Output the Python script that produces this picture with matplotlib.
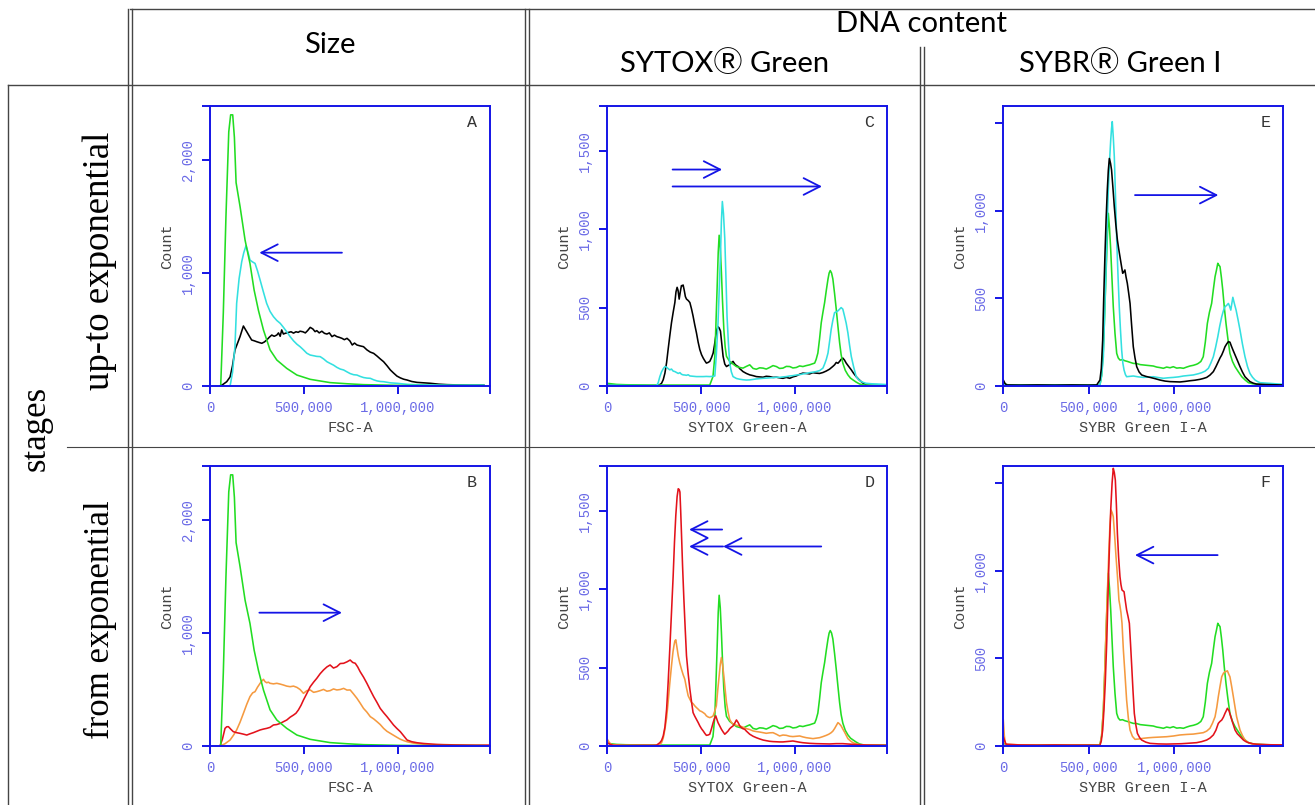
import numpy as np
import matplotlib.pyplot as plt
from matplotlib.lines import Line2D

# ---------------- data (x in thousands of channel units, y = cell count) ----------------
# FSC-A, green reference population (same curve in panels A and B)
fsc_green_x = [57, 71, 85, 100, 110, 121, 130, 139, 160, 187, 213, 235, 258, 285, 320, 356, 409, 463,
               534, 640, 729, 818, 996, 1174, 1459]
fsc_green_y = [0, 650, 1500, 2250, 2400, 2400, 2200, 1800, 1590, 1290, 1085, 850, 670, 495, 320, 230,
               156, 97, 59, 30, 20, 12, 6, 3, 3]

fsc_black_x = [53, 70, 89, 107, 120, 133, 147, 160, 170, 178, 187, 196, 210, 222, 236, 249, 262, 276,
               290, 302, 315, 329, 342, 356, 365, 374, 382, 391, 400, 409, 420, 432, 445, 458, 470,
               480, 495, 508, 520, 534, 548, 560, 569, 582, 596, 610, 623, 636, 650, 663, 676, 690,
               703, 716, 730, 745, 758, 770, 783, 800, 818, 836, 854, 872, 890, 907, 925, 943, 961,
               978, 996, 1014, 1032, 1050, 1075, 1103, 1140, 1174, 1220, 1263, 1310, 1352, 1400, 1459]
fsc_black_y = [0, 15, 38, 80, 180, 319, 380, 437, 490, 531, 505, 480, 440, 407, 400, 392, 385, 378,
               390, 407, 430, 451, 440, 451, 470, 440, 496, 460, 466, 470, 475, 480, 468, 480, 475,
               485, 480, 470, 490, 519, 505, 481, 490, 470, 485, 466, 460, 470, 437, 450, 437, 430,
               422, 410, 422, 400, 363, 380, 363, 355, 348, 320, 300, 289, 265, 240, 215, 180, 142,
               115, 88, 72, 60, 53, 40, 32, 28, 24, 16, 12, 10, 9, 8, 8]

fsc_cyan_x = [107, 120, 133, 142, 155, 169, 180, 192, 203, 213, 225, 240, 253, 267, 285, 302, 320,
              338, 356, 374, 391, 409, 427, 445, 463, 480, 498, 516, 534, 552, 569, 587, 605, 623,
              640, 658, 676, 694, 712, 730, 747, 765, 783, 800, 818, 836, 854, 872, 890, 907, 925,
              943, 961, 978, 996, 1050, 1085, 1174, 1263, 1352, 1459]
fsc_cyan_y = [0, 120, 350, 731, 950, 1100, 1180, 1242, 1180, 1115, 1100, 1085, 1020, 938, 830, 731,
              660, 614, 580, 555, 520, 480, 437, 400, 370, 348, 320, 290, 274, 268, 262, 260, 240,
              215, 200, 185, 165, 150, 142, 125, 110, 100, 97, 85, 75, 70, 68, 55, 45, 40, 38, 33,
              28, 26, 24, 15, 12, 9, 8, 8, 8]

fsc_orange_x = [53, 80, 107, 125, 142, 160, 178, 196, 213, 227, 240, 253, 267, 276, 285, 293, 302,
                311, 320, 338, 356, 374, 391, 409, 427, 445, 463, 480, 498, 516, 534, 552, 569, 587,
                605, 623, 640, 658, 676, 694, 712, 730, 747, 765, 783, 800, 818, 836, 854, 872, 890,
                907, 925, 943, 961, 978, 996, 1014, 1032, 1050, 1085, 1121, 1165, 1210, 1300, 1400,
                1490]
fsc_orange_y = [0, 20, 53, 95, 142, 210, 289, 370, 437, 470, 481, 520, 555, 575, 590, 570, 560, 565,
                555, 550, 555, 548, 540, 530, 525, 530, 519, 500, 466, 490, 496, 475, 481, 490, 501,
                485, 490, 505, 496, 500, 510, 495, 496, 460, 422, 380, 333, 300, 260, 240, 215, 190,
                156, 130, 112, 95, 77, 60, 48, 38, 25, 18, 12, 9, 5, 3, 3]

fsc_red_x = [53, 66, 80, 89, 98, 110, 124, 142, 160, 178, 196, 213, 231, 249, 267, 285, 302, 320,
             338, 356, 374, 391, 409, 427, 445, 458, 471, 485, 498, 516, 534, 552, 569, 587, 605,
             623, 640, 658, 676, 694, 712, 730, 747, 760, 774, 787, 800, 818, 836, 854, 872, 890,
             907, 925, 943, 961, 978, 996, 1014, 1032, 1050, 1075, 1103, 1140, 1174, 1210, 1245,
             1300, 1352, 1420, 1490]
fsc_red_y = [0, 60, 156, 170, 171, 150, 127, 118, 112, 105, 97, 108, 118, 130, 142, 150, 156, 165,
             186, 190, 200, 215, 230, 255, 274, 290, 319, 360, 407, 465, 525, 565, 599, 640, 673,
             700, 717, 690, 702, 730, 732, 745, 761, 740, 732, 700, 658, 610, 555, 495, 437, 385,
             333, 295, 260, 222, 186, 155, 127, 90, 53, 38, 29, 22, 18, 14, 12, 10, 9, 8, 8]

# SYTOX Green-A
sytox_green_x = [0, 50, 100, 209, 400, 546, 563, 573, 579, 585, 591, 596, 602, 608, 614, 621, 628,
                 635, 652, 670, 688, 706, 723, 741, 759, 777, 794, 812, 830, 847, 865, 883, 901, 918,
                 936, 954, 972, 989, 1007, 1025, 1042, 1060, 1078, 1095, 1105, 1113, 1122, 1131,
                 1140, 1149, 1158, 1167, 1176, 1182, 1188, 1195, 1202, 1211, 1220, 1229, 1238, 1246,
                 1255, 1268, 1282, 1296, 1309, 1326, 1344, 1362, 1380, 1420, 1490]
sytox_green_y = [17, 10, 8, 6, 6, 6, 60, 189, 400, 618, 850, 961, 880, 725, 540, 361, 250, 189, 157,
                 140, 124, 118, 114, 125, 135, 112, 107, 116, 114, 108, 118, 130, 124, 112, 114,
                 125, 124, 115, 118, 128, 124, 130, 135, 142, 146, 170, 210, 300, 403, 470, 532,
                 610, 682, 720, 736, 720, 682, 590, 489, 380, 275, 200, 146, 100, 71, 50, 39, 25,
                 13, 8, 6, 6, 6]

sytox_black_x = [0, 100, 200, 271, 289, 298, 307, 316, 324, 333, 342, 351, 360, 366, 372, 377, 383,
                 389, 395, 400, 404, 410, 416, 422, 431, 440, 449, 457, 466, 475, 484, 493, 502, 511,
                 520, 528, 537, 546, 555, 564, 571, 578, 584, 590, 596, 603, 610, 617, 626, 635, 643,
                 652, 661, 670, 679, 688, 697, 706, 714, 723, 741, 759, 777, 794, 812, 830, 847, 865,
                 883, 901, 918, 936, 954, 972, 989, 1007, 1025, 1042, 1060, 1078, 1095, 1113, 1131,
                 1149, 1166, 1184, 1202, 1211, 1220, 1229, 1238, 1246, 1255, 1264, 1273, 1286, 1300,
                 1313, 1326, 1340, 1353, 1366, 1380, 1420, 1490]
sytox_black_y = [5, 3, 3, 2, 17, 40, 82, 150, 232, 320, 403, 470, 532, 600, 629, 610, 554, 600, 640,
                 640, 644, 610, 570, 554, 545, 532, 490, 446, 390, 339, 280, 232, 200, 178, 160, 146,
                 150, 157, 180, 210, 260, 318, 360, 378, 370, 350, 270, 189, 140, 124, 130, 135,
                 148, 157, 140, 130, 124, 110, 102, 92, 80, 71, 66, 60, 58, 56, 62, 60, 55, 56, 52,
                 49, 55, 49, 58, 64, 75, 82, 80, 77, 85, 82, 80, 86, 95, 107, 125, 135, 150, 145,
                 157, 170, 178, 165, 146, 125, 103, 80, 60, 42, 28, 15, 6, 2, 0]

sytox_cyan_x = [0, 100, 262, 271, 280, 289, 298, 307, 316, 325, 333, 342, 351, 360, 369, 378, 387,
                395, 404, 413, 422, 431, 440, 457, 475, 493, 511, 528, 546, 564, 573, 581, 590, 596,
                603, 608, 613, 619, 626, 632, 638, 645, 652, 661, 670, 688, 706, 723, 741, 759, 777,
                794, 812, 830, 847, 865, 883, 901, 918, 936, 954, 972, 989, 1007, 1025, 1042, 1060,
                1078, 1095, 1113, 1131, 1149, 1158, 1167, 1176, 1184, 1193, 1202, 1211, 1220, 1229,
                1238, 1246, 1255, 1264, 1273, 1282, 1291, 1300, 1313, 1326, 1340, 1353, 1366, 1380,
                1410, 1433, 1490]
sytox_cyan_y = [5, 3, 2, 20, 60, 90, 110, 124, 120, 110, 103, 108, 95, 92, 86, 80, 85, 75, 71, 70,
                68, 72, 64, 62, 60, 60, 60, 61, 60, 62, 64, 200, 403, 600, 833, 1050, 1176, 1100,
                940, 700, 446, 280, 146, 90, 60, 48, 43, 40, 38, 39, 42, 45, 47, 49, 50, 52, 53, 56,
                55, 58, 60, 64, 66, 70, 72, 77, 80, 85, 88, 92, 98, 114, 140, 170, 210, 280, 361,
                420, 468, 472, 479, 490, 500, 490, 446, 400, 339, 260, 189, 120, 60, 40, 28, 22, 17,
                14, 13, 9]

sytox_red_x = [0, 16, 32, 100, 200, 245, 262, 280, 289, 298, 307, 316, 324, 333, 342, 351, 358, 365,
               372, 378, 383, 387, 391, 395, 401, 408, 415, 422, 431, 440, 449, 457, 466, 475, 484,
               493, 502, 511, 520, 528, 537, 546, 555, 564, 571, 578, 584, 590, 599, 608, 617, 626,
               635, 644, 652, 661, 670, 679, 688, 697, 706, 714, 723, 732, 741, 750, 759, 777, 794,
               812, 830, 847, 865, 883, 901, 918, 936, 954, 972, 989, 1007, 1025, 1042, 1060, 1078,
               1113, 1149, 1184, 1220, 1255, 1290, 1326, 1380, 1440, 1490]
sytox_red_y = [21, 10, 4, 3, 4, 4, 5, 21, 35, 64, 120, 234, 400, 618, 850, 1086, 1300, 1470, 1590,
               1640, 1635, 1619, 1500, 1363, 1150, 937, 750, 575, 460, 362, 280, 213, 190, 170, 150,
               128, 110, 96, 80, 68, 70, 75, 110, 149, 175, 192, 170, 149, 128, 107, 90, 75, 85, 96,
               110, 120, 128, 145, 166, 150, 128, 118, 110, 107, 95, 85, 75, 62, 53, 45, 38, 34, 30,
               28, 27, 26, 26, 28, 30, 32, 28, 24, 21, 19, 17, 15, 14, 13, 15, 15, 12, 9, 6, 5, 4]

sytox_orange_x = [0, 12, 23, 80, 150, 262, 280, 289, 298, 307, 316, 324, 333, 342, 350, 355, 360,
                  365, 371, 378, 386, 395, 404, 413, 422, 431, 440, 449, 457, 466, 475, 484, 493,
                  502, 511, 520, 528, 537, 546, 555, 564, 572, 581, 588, 596, 602, 608, 614, 621,
                  628, 635, 643, 652, 661, 670, 679, 688, 697, 706, 723, 741, 759, 777, 794, 812,
                  830, 847, 865, 883, 901, 918, 936, 954, 972, 989, 1007, 1025, 1042, 1060, 1078,
                  1096, 1113, 1131, 1149, 1167, 1180, 1193, 1202, 1211, 1220, 1229, 1238, 1246,
                  1255, 1264, 1273, 1282, 1296, 1309, 1326, 1344, 1380, 1440, 1490]
sytox_orange_y = [43, 20, 9, 5, 5, 4, 10, 21, 50, 107, 180, 277, 400, 511, 600, 639, 670, 677, 630,
                  575, 530, 490, 455, 426, 370, 320, 298, 277, 270, 256, 245, 235, 224, 220, 213,
                  205, 192, 185, 181, 185, 192, 220, 256, 350, 447, 520, 564, 520, 447, 360, 277,
                  220, 170, 150, 140, 138, 132, 130, 128, 120, 111, 105, 96, 92, 89, 85, 81, 84, 85,
                  75, 64, 70, 68, 62, 60, 62, 64, 58, 53, 50, 47, 50, 53, 60, 68, 75, 85, 95, 111,
                  130, 149, 140, 128, 108, 89, 68, 47, 32, 21, 14, 9, 6, 5, 4]

# SYBR Green I-A
sybr_green_x = [0, 15, 29, 100, 300, 500, 565, 575, 585, 593, 600, 607, 614, 621, 628, 636, 643,
                653, 663, 672, 682, 697, 711, 726, 741, 760, 780, 800, 819, 838, 858, 877, 897, 916,
                936, 955, 975, 994, 1014, 1033, 1053, 1072, 1091, 1111, 1130, 1140, 1155, 1169, 1181,
                1193, 1205, 1218, 1228, 1238, 1246, 1254, 1260, 1267, 1275, 1283, 1292, 1302, 1313,
                1325, 1340, 1355, 1375, 1394, 1413, 1433, 1457, 1481, 1540, 1630]
sybr_green_y = [15, 10, 6, 6, 6, 6, 6, 60, 205, 420, 624, 820, 985, 900, 776, 600, 452, 300, 186,
                160, 148, 150, 144, 140, 135, 129, 128, 122, 120, 118, 116, 114, 108, 105, 101, 108,
                104, 110, 102, 104, 101, 108, 114, 118, 124, 129, 140, 167, 250, 357, 420, 471, 550,
                624, 660, 700, 690, 681, 620, 548, 450, 357, 270, 186, 140, 110, 80, 53, 35, 19, 13,
                10, 7, 6]

sybr_black_x = [0, 10, 19, 100, 200, 300, 400, 500, 546, 565, 573, 581, 587, 594, 601, 608, 614,
                620, 627, 633, 641, 649, 658, 667, 675, 682, 690, 698, 704, 711, 718, 725, 733, 741,
                750, 760, 770, 780, 794, 809, 833, 858, 887, 916, 946, 975, 1004, 1033, 1062, 1091,
                1120, 1150, 1170, 1189, 1208, 1228, 1243, 1257, 1267, 1277, 1287, 1296, 1306, 1316,
                1325, 1335, 1345, 1355, 1369, 1384, 1398, 1413, 1428, 1442, 1462, 1481, 1540, 1630]
sybr_black_y = [34, 15, 6, 5, 6, 5, 6, 5, 6, 34, 100, 262, 500, 738, 950, 1118, 1230, 1298, 1270,
                1232, 1130, 1023, 920, 833, 780, 738, 690, 643, 650, 662, 620, 586, 530, 471, 350,
                224, 160, 110, 80, 63, 55, 49, 42, 34, 28, 25, 24, 23, 26, 30, 33, 38, 43, 49, 62,
                82, 110, 139, 160, 177, 200, 224, 240, 253, 250, 224, 200, 177, 145, 110, 80, 53, 38,
                25, 16, 11, 8, 6]

sybr_cyan_x = [0, 100, 300, 500, 565, 575, 585, 592, 600, 607, 614, 621, 628, 633, 637, 643, 649,
               656, 663, 671, 678, 685, 692, 699, 706, 714, 721, 740, 760, 790, 819, 848, 877, 907,
               936, 965, 994, 1024, 1053, 1082, 1111, 1140, 1160, 1180, 1199, 1213, 1228, 1241, 1254,
               1265, 1277, 1287, 1296, 1306, 1316, 1323, 1330, 1336, 1342, 1351, 1361, 1372, 1384,
               1398, 1413, 1428, 1442, 1457, 1472, 1487, 1501, 1530, 1559, 1600, 1630]
sybr_cyan_y = [6, 5, 6, 5, 6, 60, 167, 400, 643, 900, 1118, 1280, 1403, 1470, 1508, 1420, 1308,
               1080, 833, 620, 452, 320, 205, 130, 91, 65, 53, 55, 57, 52, 49, 51, 53, 48, 44, 47,
               49, 52, 57, 60, 63, 70, 76, 85, 101, 130, 167, 220, 281, 340, 395, 430, 452, 460,
               471, 455, 433, 470, 506, 470, 433, 380, 319, 240, 167, 110, 72, 50, 34, 25, 19, 17,
               15, 12, 10]

sybr_red_x = [0, 8, 16, 100, 200, 300, 400, 500, 565, 573, 581, 588, 596, 605, 614, 621, 628, 636,
              643, 649, 655, 661, 667, 674, 682, 688, 694, 700, 706, 713, 721, 729, 737, 744, 751,
              758, 766, 775, 784, 797, 809, 833, 858, 906, 955, 1000, 1040, 1072, 1101, 1130, 1160,
              1189, 1208, 1228, 1243, 1257, 1267, 1277, 1287, 1296, 1303, 1310, 1320, 1330, 1342,
              1355, 1368, 1381, 1393, 1404, 1418, 1433, 1457, 1481, 1560, 1630]
sybr_red_y = [53, 30, 10, 6, 5, 6, 5, 5, 4, 30, 91, 200, 357, 600, 928, 1150, 1346, 1500, 1584,
              1560, 1517, 1380, 1213, 1080, 966, 920, 890, 885, 880, 830, 776, 740, 700, 580, 452,
              320, 186, 120, 72, 48, 34, 22, 15, 12, 11, 12, 13, 15, 17, 19, 25, 34, 45, 63, 90,
              129, 140, 148, 165, 186, 200, 215, 200, 167, 130, 91, 70, 57, 45, 34, 25, 19, 13, 10,
              7, 6]

sybr_orange_x = [0, 6, 12, 100, 200, 300, 400, 500, 565, 575, 585, 593, 600, 608, 616, 623, 630,
                 637, 643, 651, 659, 668, 676, 682, 688, 694, 702, 712, 721, 731, 741, 755, 770, 794,
                 819, 848, 877, 916, 955, 994, 1033, 1072, 1111, 1140, 1169, 1189, 1208, 1223, 1238,
                 1248, 1257, 1267, 1277, 1287, 1296, 1303, 1310, 1318, 1325, 1335, 1345, 1355, 1364,
                 1374, 1384, 1398, 1413, 1428, 1442, 1470, 1501, 1560, 1630]
sybr_orange_y = [148, 60, 10, 6, 5, 4, 5, 4, 4, 60, 205, 420, 643, 860, 1080, 1250, 1346, 1330,
                 1308, 1200, 1080, 960, 833, 800, 760, 700, 548, 400, 262, 160, 91, 55, 38, 40, 44,
                 47, 49, 51, 53, 57, 63, 66, 68, 72, 76, 85, 101, 130, 167, 220, 281, 340, 395, 415,
                 424, 425, 429, 410, 395, 340, 281, 220, 167, 128, 91, 60, 34, 22, 15, 11, 8, 7, 6]

# annotation arrows: (tail_x, tip_x, y) in thousands / counts
arrows_a = [(703, 263, 1180)]
arrows_b = [(263, 703, 1180)]
arrows_c = [(348, 612, 1380), (348, 1144, 1272)]
arrows_d = [(612, 436, 1380), (1140, 617, 1272), (617, 436, 1272)]
arrows_e = [(770, 1257, 1089)]
arrows_f = [(1253, 770, 1089)]

GREEN = '#22dd22'
CYAN = '#33e0e0'
BLACK = '#000000'
RED = '#e3121b'
ORANGE = '#f59a40'
AXBLUE = '#1414e6'
TICKTXT = '#6a6ae6'
GRID = '#454545'

W, H = 1315, 805
fig = plt.figure(figsize=(W / 100, H / 100), dpi=100)
fig.patch.set_facecolor('white')


def fig_line(xs, ys, lw=1.0, color=GRID):
    fig.add_artist(Line2D([x / W for x in xs], [1 - y / H for y in ys],
                          color=color, lw=lw, transform=fig.transFigure))


def panel(left, top, letter, xlabel, curves, xmax, ymax, xticks, xlabs, yticks, ylabs, arrows):
    ax = fig.add_axes([left / W, 1 - (top + 280.3) / H, 280 / W, 280.3 / H])
    for xs, ys, c in curves:
        ax.plot(np.array(xs) * 1000, ys, color=c, lw=1.15)
    ax.set_xlim(0, xmax)
    ax.set_ylim(0, ymax)
    for s in ax.spines.values():
        s.set_color(AXBLUE)
        s.set_linewidth(1.4)
    ax.set_xticks(xticks)
    ax.set_xticklabels(xlabs)
    ax.set_yticks(yticks)
    ax.set_yticklabels(ylabs, rotation=90, va='center')
    ax.tick_params(direction='out', length=6, width=1.4, color=AXBLUE, labelcolor=TICKTXT,
                   labelsize=10, pad=5)
    for t in ax.get_xticklabels() + ax.get_yticklabels():
        t.set_fontfamily('Liberation Mono')
    ax.text(-0.154, 0.5, 'Count', rotation=90, ha='center', va='center', transform=ax.transAxes,
            family='Liberation Mono', fontsize=11, color='#444444')
    ax.text(0.5, -0.15, xlabel, ha='center', va='center', transform=ax.transAxes,
            family='Liberation Mono', fontsize=11, color='#444444')
    ax.text(0.936, 0.94, letter, ha='center', va='center', transform=ax.transAxes,
            family='Liberation Mono', fontsize=12, color='#333333')
    for x0, x1, y in arrows:
        ax.annotate('', xy=(x1 * 1000, y), xytext=(x0 * 1000, y),
                    arrowprops=dict(arrowstyle='->,head_length=1.18,head_width=0.6',
                                    color=AXBLUE, lw=1.3, shrinkA=0, shrinkB=0))
    return ax


XM1 = 1492000
YA = 2481
YC = 1787
XM2 = 1637000
YE = 1599

fsc_ticks = [0, 500000, 1000000, XM1]
fsc_labs = ['0', '500,000', '1,000,000', '']

panel(210, 105.7, 'A', 'FSC-A',
      [(fsc_black_x, fsc_black_y, BLACK), (fsc_cyan_x, fsc_cyan_y, CYAN),
       (fsc_green_x, fsc_green_y, GREEN)],
      XM1, YA, fsc_ticks, fsc_labs, [0, 1000, 2000, YA], ['0', '1,000', '2,000', ''], arrows_a)
panel(210, 465.7, 'B', 'FSC-A',
      [(fsc_orange_x, fsc_orange_y, ORANGE), (fsc_red_x, fsc_red_y, RED),
       (fsc_green_x, fsc_green_y, GREEN)],
      XM1, YA, fsc_ticks, fsc_labs, [0, 1000, 2000, YA], ['0', '1,000', '2,000', ''], arrows_b)
panel(607.3, 105.7, 'C', 'SYTOX Green-A',
      [(sytox_black_x, sytox_black_y, BLACK), (sytox_green_x, sytox_green_y, GREEN),
       (sytox_cyan_x, sytox_cyan_y, CYAN)],
      XM1, YC, fsc_ticks, fsc_labs, [0, 500, 1000, 1500, YC], ['0', '500', '1,000', '1,500', ''],
      arrows_c)
panel(607.3, 465.7, 'D', 'SYTOX Green-A',
      [(sytox_green_x, sytox_green_y, GREEN), (sytox_orange_x, sytox_orange_y, ORANGE),
       (sytox_red_x, sytox_red_y, RED)],
      XM1, YC, fsc_ticks, fsc_labs, [0, 500, 1000, 1500, YC], ['0', '500', '1,000', '1,500', ''],
      arrows_d)
sybr_ticks = [0, 500000, 1000000, 1500000]
panel(1003.3, 105.7, 'E', 'SYBR Green I-A',
      [(sybr_green_x, sybr_green_y, GREEN), (sybr_cyan_x, sybr_cyan_y, CYAN),
       (sybr_black_x, sybr_black_y, BLACK)],
      XM2, YE, sybr_ticks, fsc_labs, [0, 500, 1000, 1500], ['0', '500', '1,000', ''], arrows_e)
panel(1003.3, 465.7, 'F', 'SYBR Green I-A',
      [(sybr_green_x, sybr_green_y, GREEN), (sybr_orange_x, sybr_orange_y, ORANGE),
       (sybr_red_x, sybr_red_y, RED)],
      XM2, YE, sybr_ticks, fsc_labs, [0, 500, 1000, 1500], ['0', '500', '1,000', ''], arrows_f)

# ---- table frame ----
fig_line([130, 1315], [9, 9])
fig_line([8, 1315], [85, 85])
fig_line([67, 1315], [447, 447], lw=0.8)
fig_line([8, 8], [85, 805])
for xv in (128, 132, 525, 529):
    fig_line([xv, xv], [9, 805])
for xv in (920, 924):
    fig_line([xv, xv], [47, 805])

# ---- headers ----
hfont = ['Lato', 'DejaVu Sans', 'Noto Sans CJK SC']
fig.text(330 / W, 1 - 45 / H, 'Size', ha='center', va='center', fontsize=21, family=hfont)
fig.text(922 / W, 1 - 24 / H, 'DNA content', ha='center', va='center', fontsize=21, family=hfont)
fig.text(725 / W, 1 - 64 / H, 'SYTOX\u24c7 Green', ha='center', va='center', fontsize=21,
         family=hfont)
fig.text(1120 / W, 1 - 64 / H, 'SYBR\u24c7 Green I', ha='center', va='center', fontsize=21,
         family=hfont)

sfont = 'Liberation Serif'
fig.text(100 / W, 1 - 261 / H, 'up-to exponential', rotation=90, ha='center', va='center',
         fontsize=26.5, family=sfont)
fig.text(36 / W, 1 - 428 / H, 'stages', rotation=90, ha='center', va='center',
         fontsize=25, family=sfont)
fig.text(100 / W, 1 - 620 / H, 'from exponential', rotation=90, ha='center', va='center',
         fontsize=25, family=sfont)

fig.savefig('out.png', dpi=100, facecolor='white')
